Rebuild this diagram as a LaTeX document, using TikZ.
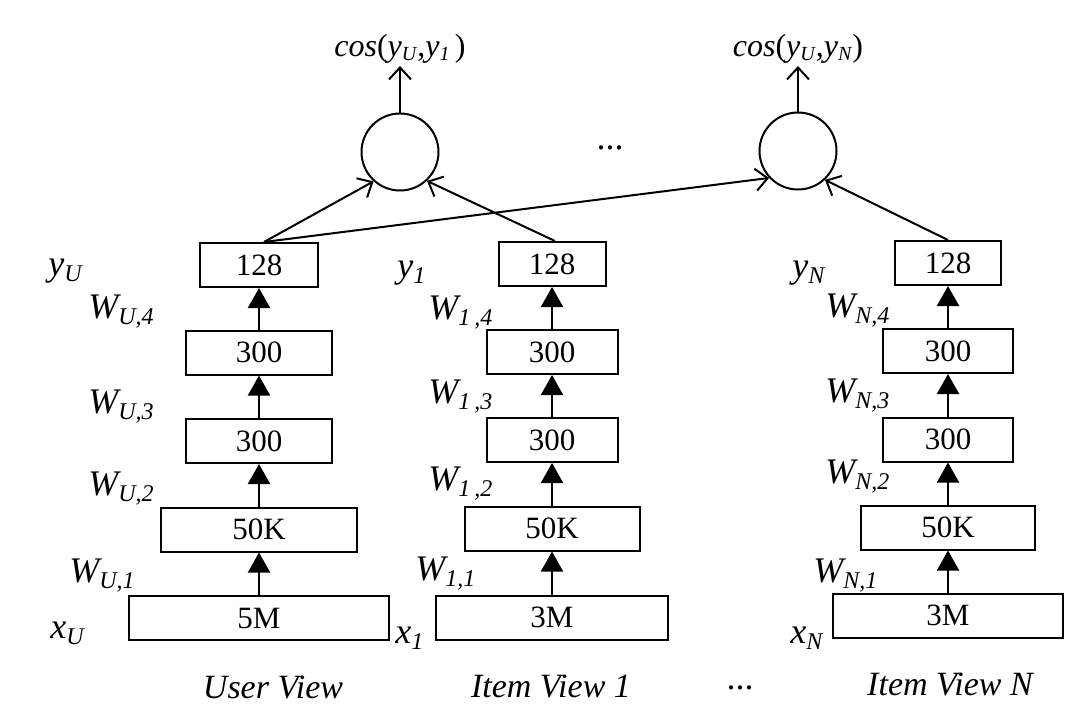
\documentclass[tikz,border=0pt]{standalone}
\usepackage{fontspec}
\usepackage{graphicx}
\setmainfont{Liberation Serif}
\usetikzlibrary{arrows.meta}
\newcommand{\lsub}[1]{\raisebox{-3pt}{\fontsize{12}{12}\selectfont #1}}
\newcommand{\csub}[1]{\raisebox{-2pt}{\fontsize{10}{10}\selectfont #1}}
\begin{document}
\begin{tikzpicture}[x=0.5pt,y=-0.5pt,
  box/.style={draw, line width=1pt, rectangle, inner sep=0pt, minimum height=22pt, font=\fontsize{15.5}{16}\selectfont},
  lab/.style={anchor=base west, inner sep=0pt, font=\fontsize{18}{18}\selectfont\itshape},
  view/.style={anchor=base, inner sep=0pt, font=\fontsize{17}{17}\selectfont\itshape},
  uparr/.style={line width=1pt, -{Triangle[width=11pt,length=10pt]}},
  cosarr/.style={line width=1pt, -{Straight Barb[width=11pt,length=6pt]}},
  dotnode/.style={draw, line width=1pt, circle, minimum size=38.5pt, inner sep=0pt},
  ell/.style={inner sep=0pt, font=\fontsize{18}{18}\selectfont}
]
\path[use as bounding box] (0,0) rectangle (1076,709);

% User view column
\node[box, minimum width=130pt] (u0) at (259,618) {5M};
\node[box, minimum width=98pt] (u1) at (259,529.5) {50K};
\node[box, minimum width=73pt] (u2) at (259,441) {300};
\node[box, minimum width=73pt] (u3) at (259,352.5) {300};
\node[box, minimum width=59pt] (u4) at (259,265) {128};

% Item view 1 column
\node[box, minimum width=116pt] (a0) at (552,617.5) {3M};
\node[box, minimum width=87.5pt] (a1) at (552,528.5) {50K};
\node[box, minimum width=65.5pt] (a2) at (552,440) {300};
\node[box, minimum width=65.5pt] (a3) at (552,352) {300};
\node[box, minimum width=53.5pt] (a4) at (552,264) {128};

% Item view N column
\node[box, minimum width=115pt] (n0) at (948,615.5) {3M};
\node[box, minimum width=87pt] (n1) at (948,527.5) {50K};
\node[box, minimum width=65pt] (n2) at (948,439.5) {300};
\node[box, minimum width=65pt] (n3) at (948,351) {300};
\node[box, minimum width=53pt] (n4) at (948,263) {128};

% up arrows
\foreach \c in {u,a,n}{
  \draw[uparr] (\c0) -- (\c1);
  \draw[uparr] (\c1) -- (\c2);
  \draw[uparr] (\c2) -- (\c3);
  \draw[uparr] (\c3) -- (\c4);
}

% cosine circles
\node[dotnode] (c1) at (400,152) {};
\node[dotnode] (c2) at (798,151) {};
\node[anchor=south, inner sep=1pt, font=\fontsize{16}{16}\selectfont] (t1) at (400,66)
  {\textit{cos}(\textit{y}\csub{\textit{U}},\textit{y}\csub{\textit{1}}\,)};
\node[anchor=south, inner sep=1pt, font=\fontsize{16}{16}\selectfont] (t2) at (798,66)
  {\textit{cos}(\textit{y}\csub{\textit{U}},\textit{y}\csub{\textit{N}})};
\draw[cosarr] (c1) -- (t1);
\draw[cosarr] (c2) -- (t2);

\draw[cosarr] ([xshift=2.5pt]u4.north) -- (c1.228);
\draw[cosarr] ([xshift=1.5pt]a4.north) -- (c1.313);
\draw[cosarr] ([xshift=2.5pt]u4.north) -- (c2.223);
\draw[cosarr] (n4.north) -- (c2.313);

% labels user
\node[lab] (lyu) at (48,275) {y\lsub{U}};
\node[lab] (lwu4) at (88,318) {W\lsub{U,4}};
\node[lab] (lwu3) at (88,413) {W\lsub{U,3}};
\node[lab] (lwu2) at (88,495) {W\lsub{U,2}};
\node[lab] (lwu1) at (69,582) {W\lsub{U,1}};
\node[lab] (lxu) at (50,638) {x\lsub{U}};

% labels item 1
\node[lab] (ly1) at (397,277) {y\lsub{1}};
\node[lab] (lw14) at (428,319) {W\lsub{1\,,4}};
\node[lab] (lw13) at (428,403) {W\lsub{1\,,3}};
\node[lab] (lw12) at (428,490) {W\lsub{1\,,2}};
\node[lab] (lw11) at (415,580) {W\lsub{1,1}};
\node[lab] (lx1) at (395,643) {x\lsub{1}};

% labels item N
\node[lab] (lyn) at (792,277) {y\lsub{N}};
\node[lab] (lwn4) at (825,317) {W\lsub{N,4}};
\node[lab] (lwn3) at (825,402) {W\lsub{N,3}};
\node[lab] (lwn2) at (825,483) {W\lsub{N,2}};
\node[lab] (lwn1) at (813,582) {W\lsub{N,1}};
\node[lab] (lxn) at (790,643) {x\lsub{N}};

% view captions
\node[view] (vu) at (273,698) {User View};
\node[view] (v1) at (551,697) {Item View 1};
\node[view] (vn) at (950,695) {Item View N};

% ellipses
\node[ell] (e1) at (610,148) {...};
\node[ell] (e2) at (740,688) {...};
\end{tikzpicture}
\end{document}
